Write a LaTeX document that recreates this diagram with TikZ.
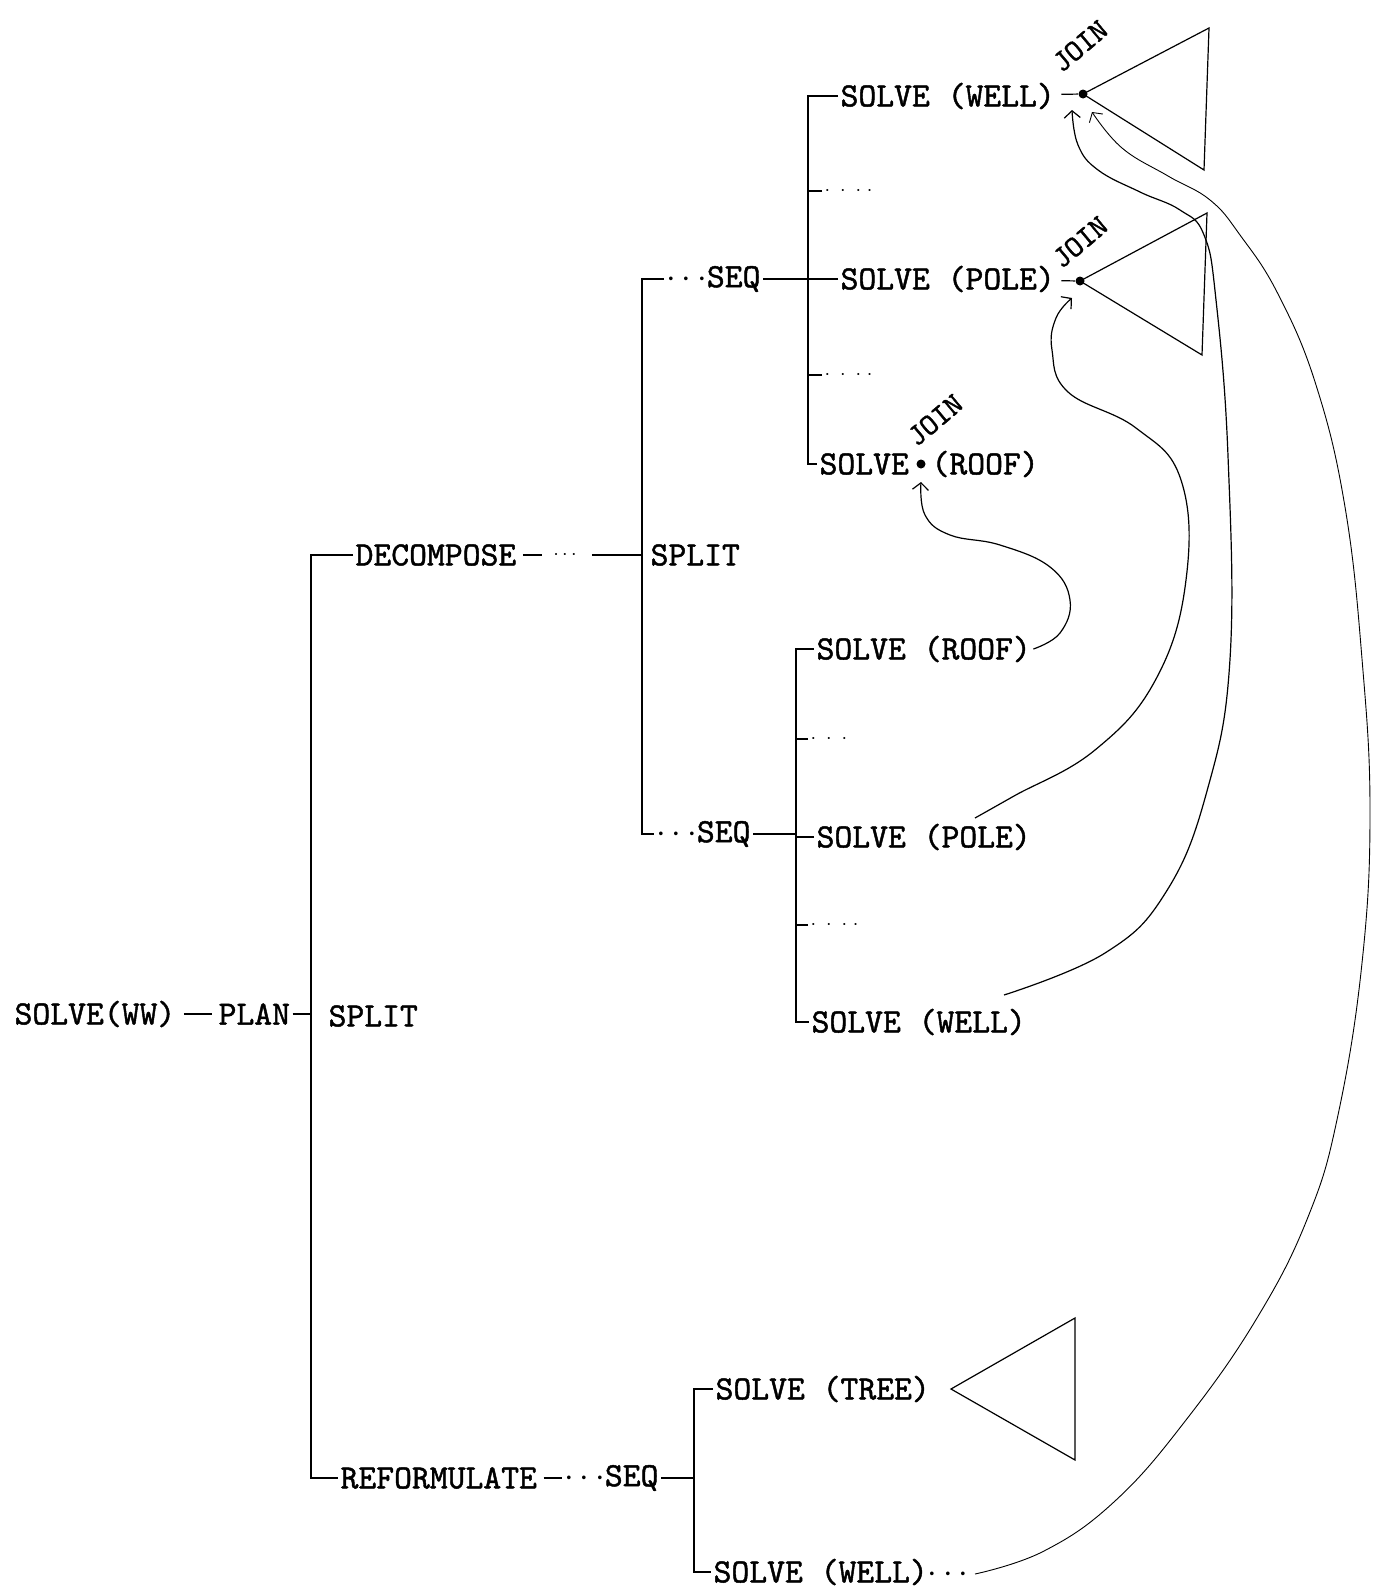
\documentclass[tikz,border=0pt]{standalone}
\usepackage{fontspec}
\usepackage{tikz}
\usetikzlibrary{arrows.meta,positioning}
\newfontfamily\typew{lmmono10-regular.otf}[FakeBold=1.3]

\begin{document}
\begin{tikzpicture}[x=0.5pt,y=-0.5pt,line width=0.6pt,
  lbl/.style={font=\typew\fontsize{17}{18}\selectfont,inner sep=1pt,anchor=west},
  dotsl/.style={inner sep=1pt,anchor=west},
  jn/.style={font=\typew\fontsize{15}{16}\selectfont,rotate=40,inner sep=0pt},
  jdot/.style={circle,fill,inner sep=0pt,minimum size=4.5pt},
  ret/.style={-{Straight Barb[length=3.5pt,width=8pt]}}]
\useasboundingbox (0,0) rectangle (1377,1590);

% root and first split
\node[lbl] (ww) at (12,1014) {SOLVE(WW)};
\node[lbl] (plan) at (216,1014) {PLAN};
\node[lbl] (splitL) at (326,1016) {SPLIT};
\node[lbl] (dec) at (353,555) {DECOMPOSE};
\node[lbl] (ref) at (338,1478) {REFORMULATE};
\coordinate (brL) at (311,0);
\draw[shorten <=3pt,shorten >=2pt] (ww) -- (plan);
\draw (plan.east) -- (plan.east -| brL);
\draw (dec.west) -- (dec.west -| brL) -- (ref.west -| brL) -- (ref.west);

% decompose branch
\node (dotsD) at (565,555) {$\cdots$};
\node[lbl] (splitU) at (648,555) {SPLIT};
\coordinate (brM) at (642,0);
\draw[shorten <=2pt,shorten >=2pt] (dec) -- (dotsD);
\draw[shorten <=4pt] (dotsD) -- (dotsD -| brM);
\node[lbl] (seqU) at (664,279) {$\cdots$SEQ};
\node[lbl] (seqL) at (654,834) {$\cdots$SEQ};
\draw (seqU.west) -- (seqU.west -| brM) -- (seqL.west -| brM) -- (seqL.west);

% upper sequence
\coordinate (brA) at (808,0);
\node[lbl] (wellA) at (838,96) {SOLVE (WELL)};
\node[dotsl] (dA1) at (822,191) {$\cdot\;\cdot\;\cdot\;\cdot$};
\node[lbl] (poleA) at (838,279) {SOLVE (POLE)};
\node[dotsl] (dA2) at (822,375) {$\cdot\;\cdot\;\cdot\;\cdot$};
\node[lbl] (roofAs) at (817,464) {SOLVE};
\node[jdot] (jroof) at (921,464) {};
\node[lbl] (roofAr) at (929,464) {(ROOF)};
\draw (wellA.west) -- (wellA.west -| brA) -- (roofAs.west -| brA) -- (roofAs.west);
\draw (seqU.east) -- (seqU.east -| brA); \draw (poleA.west) -- (poleA.west -| brA);
\draw (dA1.west) -- (dA1.west -| brA); \draw (dA2.west) -- (dA2.west -| brA);

\node[jdot] (jwell) at (1083,94) {};
\node[jdot] (jpole) at (1080,281) {};
\draw[shorten <=2pt] (wellA) -- (jwell); \draw[shorten <=2pt] (poleA) -- (jpole);
\draw (jwell.center) -- (1209,28) -- (1204,170) -- cycle;
\draw (jpole.center) -- (1207,213) -- (1202,355) -- cycle;
\node[jn] (joinW) at (1080,46) {JOIN};
\node[jn] (joinP) at (1080,242) {JOIN};
\node[jn] (joinR) at (935,420) {JOIN};

% lower sequence
\coordinate (brB) at (796,0);
\node[lbl] (roofB) at (814,649) {SOLVE (ROOF)};
\node[dotsl] (dB1) at (808,739) {$\cdot\;\cdot\;\cdot$};
\node[lbl] (poleB) at (814,837) {SOLVE (POLE)};
\node[dotsl] (dB2) at (808,925) {$\cdot\;\cdot\;\cdot\;\cdot$};
\node[lbl] (wellB) at (809,1022) {SOLVE (WELL)};
\draw (roofB.west) -- (roofB.west -| brB) -- (wellB.west -| brB) -- (wellB.west);
\draw (seqL.east) -- (seqL.east -| brB); \draw (poleB.west) -- (poleB.west -| brB);
\draw (dB1.west) -- (dB1.west -| brB); \draw (dB2.west) -- (dB2.west -| brB);

% reformulate branch
\node[lbl] (seqR) at (562,1478) {$\cdots$SEQ};
\coordinate (brC) at (694,0);
\node[lbl] (treeC) at (713,1389) {SOLVE (TREE)};
\node[lbl] (wellC) at (711,1572) {SOLVE (WELL)$\cdots$};
\draw[shorten <=2pt] (ref) -- (seqR);
\draw (seqR.east) -- (seqR.east -| brC);
\draw (treeC.west) -- (treeC.west -| brC) -- (wellC.west -| brC) -- (wellC.west);
\coordinate (apexT) at (951,1389);
\draw (apexT) -- (1075,1318) -- (1075,1460) -- cycle;

% results passed up to the joins
\coordinate (tipR) at (921,482);
\draw[ret] plot[smooth,tension=.7] coordinates {(roofB.east) (1060,633) (1070,600) (1050,567) (1000,545) (950,535) (925,515) (tipR)};
\coordinate (sP) at (975,818);
\coordinate (tipP) at (1072,298);
\draw[ret] plot[smooth,tension=.7] coordinates {(sP) (1014,796) (1095,750) (1156,679) (1186,580) (1181,480) (1136,428) (1068,392) (1052,350) (1056,318) (tipP)};
\coordinate (sW) at (1004,995);
\coordinate (tipW1) at (1072,110);
\draw[ret] plot[smooth,tension=.7] coordinates {(sW) (1105,953) (1166,892) (1207,791) (1230,659) (1228,456) (1216,300) (1204,235) (1180,210) (1140,192) (1098,170) (1078,145) (tipW1)};
\coordinate (sC) at (975,1574);
\coordinate (tipW2) at (1092,112);
\draw[ret,line width=0.45pt] plot[smooth,tension=.7] coordinates {(sC) (1044,1551) (1115,1501) (1186,1420) (1257,1318) (1308,1217) (1338,1115) (1362,963) (1370,811) (1362,659) (1345,507) (1316,385) (1278,294) (1240,235) (1210,200) (1168,176) (1122,148) (tipW2)};
\end{tikzpicture}
\end{document}
